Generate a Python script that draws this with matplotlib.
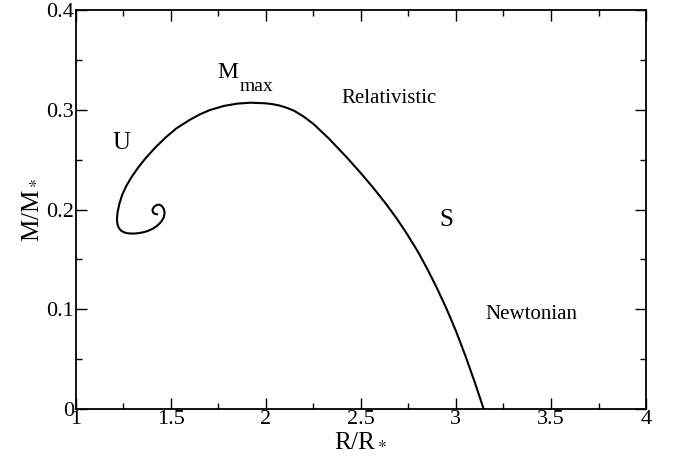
import matplotlib
matplotlib.use('Agg')
import matplotlib.pyplot as plt
from matplotlib.ticker import MultipleLocator

plt.rcParams['font.family'] = ['Liberation Serif', 'DejaVu Serif']
plt.rcParams['mathtext.fontset'] = 'stix'

# mass-radius curve (Newtonian end -> spiral centre)
radius = [3.146, 3.100, 3.050, 3.000, 2.950, 2.900, 2.850, 2.800, 2.740, 2.687,
          2.630, 2.565, 2.500, 2.425, 2.330, 2.250, 2.200, 2.150, 2.112, 2.074,
          2.037, 2.000, 1.920, 1.850, 1.780, 1.705, 1.653, 1.600, 1.530, 1.477,
          1.420, 1.370, 1.330, 1.295, 1.267, 1.245, 1.230, 1.220, 1.217, 1.220,
          1.228, 1.240, 1.255, 1.272, 1.290, 1.310, 1.330, 1.355, 1.380, 1.405,
          1.430, 1.450, 1.463, 1.468, 1.464, 1.454, 1.440, 1.424, 1.411, 1.404,
          1.406, 1.415, 1.428]
mass = [0.0000, 0.0263, 0.0533, 0.0783, 0.1008, 0.1213, 0.1403, 0.1578, 0.1764, 0.1915,
        0.2063, 0.2219, 0.2365, 0.2526, 0.2716, 0.2860, 0.2932, 0.2990, 0.3020, 0.3043,
        0.3057, 0.3066, 0.3072, 0.3063, 0.3040, 0.2998, 0.2955, 0.2900, 0.2815, 0.2730,
        0.2625, 0.2520, 0.2425, 0.2330, 0.2240, 0.2150, 0.2060, 0.1970, 0.1900, 0.1850,
        0.1812, 0.1787, 0.1772, 0.1763, 0.1760, 0.1760, 0.1764, 0.1772, 0.1786, 0.1808,
        0.1840, 0.1878, 0.1920, 0.1965, 0.2005, 0.2035, 0.2050, 0.2045, 0.2025, 0.2000,
        0.1975, 0.1958, 0.1953]

fig = plt.figure(figsize=(6.88, 4.63), dpi=100)
ax = fig.add_axes([0.110, 0.1166, 0.829, 0.8614])

ax.plot(radius, mass, color='black', lw=1.5, solid_joinstyle='round')

ax.set_xlim(1, 4)
ax.set_ylim(0, 0.4)
ax.xaxis.set_major_locator(MultipleLocator(0.5))
ax.xaxis.set_minor_locator(MultipleLocator(0.25))
ax.yaxis.set_major_locator(MultipleLocator(0.1))
ax.yaxis.set_minor_locator(MultipleLocator(0.05))
ax.xaxis.set_major_formatter(plt.FuncFormatter(lambda v, p: '%g' % v))
ax.yaxis.set_major_formatter(plt.FuncFormatter(lambda v, p: '%g' % v))
ax.tick_params(which='both', direction='in', top=True, right=True,
               labelsize=16, pad=1, width=1)
ax.tick_params(which='major', length=8)
ax.tick_params(which='minor', length=4)
for s in ax.spines.values():
    s.set_linewidth(1.3)

ax.set_xlabel(r'R/R$_*$', fontsize=18, labelpad=0)
ax.set_ylabel(r'M/M$_*$', fontsize=18, labelpad=4)

ax.text(1.24, 0.267, 'U', fontsize=18, ha='center', va='center')
ax.text(1.745, 0.3378, 'M', fontsize=17, ha='left', va='center')
ax.text(1.862, 0.3190, 'max', fontsize=14, ha='left', va='baseline')
ax.text(2.40, 0.311, 'Relativistic', fontsize=15, ha='left', va='center')
ax.text(2.95, 0.190, 'S', fontsize=18, ha='center', va='center')
ax.text(3.155, 0.095, 'Newtonian', fontsize=15, ha='left', va='center')

plt.savefig('out.png', dpi=100)
